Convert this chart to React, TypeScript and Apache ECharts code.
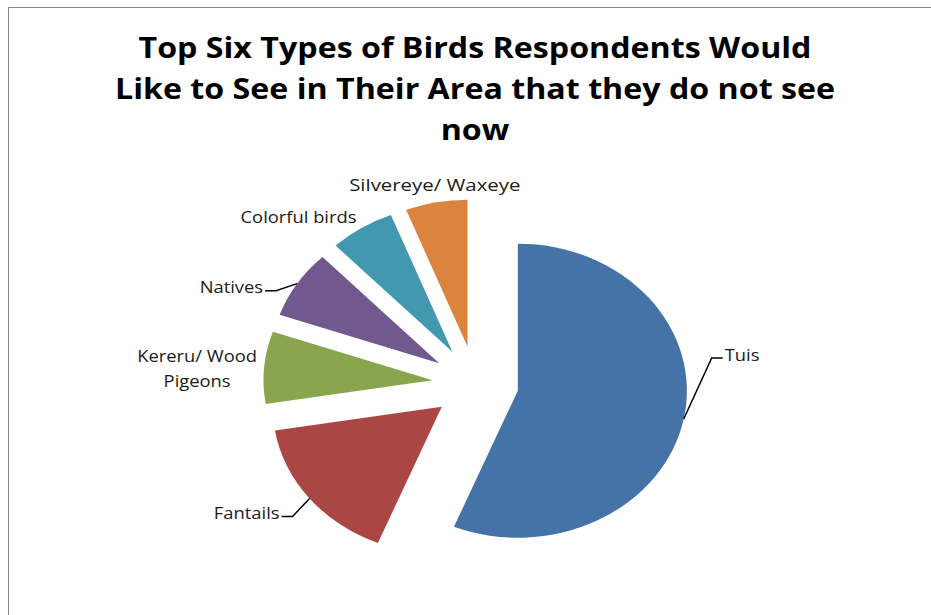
import React, { useEffect, useRef } from "react";
import * as echarts from "echarts";

const titleText = "Top Six Types of Birds Respondents Would\nLike to See in Their Area that they do not see\nnow";
const categories = ["Tuis", "Fantails", "Kereru/ Wood\nPigeons", "Natives", "Colorful birds", "Silvereye/ Waxeye"];
const values = [56, 16.2, 7.9, 7.5, 6.2, 5.9];
const colors = ["#4572A7", "#AA4643", "#89A54E", "#71588F", "#4198AF", "#DB843D"];

// label placement relative to the slice's outer arc midpoint: [dx, dy, align, hasLeader]
const labelLayout: [number, number, string, boolean][] = [
  [41, -65, "left", true],
  [-30, 14, "right", true],
  [-67, 0, "center", false],
  [-34, 3, "right", true],
  [-63, -12, "center", false],
  [-1.5, -18, "center", false],
];

const CX = 475.5;
const CY = 383.5;
const R = 147;
const SX = 1.15;
const EXPLODE = 37.5;

export default function App() {
  const ref = useRef<HTMLDivElement>(null);
  useEffect(() => {
    if (!ref.current) return;
    const chart = echarts.init(ref.current, undefined, { renderer: "svg" });
    const total = values.reduce((a, b) => a + b, 0);
    const starts: number[] = [];
    let acc = 0;
    values.forEach((v) => {
      starts.push(acc);
      acc += v;
    });
    const renderItem = (params: any, api: any) => {
      const i = params.dataIndex;
      const v = api.value(0);
      const a0 = (starts[i] / total) * Math.PI * 2;
      const a1 = ((starts[i] + v) / total) * Math.PI * 2;
      const mid = (a0 + a1) / 2;
      const ox = EXPLODE * Math.sin(mid) * SX;
      const oy = -EXPLODE * Math.cos(mid);
      const ax = CX + (R + EXPLODE) * Math.sin(mid) * SX;
      const ay = CY - (R + EXPLODE) * Math.cos(mid);
      const [dx, dy, align, leader] = labelLayout[i];
      const tx = ax + dx;
      const ty = ay + dy;
      const children: any[] = [
        {
          type: "sector",
          x: CX + ox,
          y: CY + oy,
          scaleX: SX,
          shape: {
            cx: 0,
            cy: 0,
            r0: 0,
            r: R,
            startAngle: a0 - Math.PI / 2,
            endAngle: a1 - Math.PI / 2,
            clockwise: true,
          },
          style: { fill: colors[i] },
        },
        {
          type: "text",
          x: tx,
          y: ty,
          scaleX: i === 5 ? 1.2 : 1.08,
          style: {
            text: categories[i],
            align: align,
            verticalAlign: "middle",
            fontFamily: "Open Sans",
            fontSize: 17,
            lineHeight: 25,
            fill: "#1a1a1a",
          },
        },
      ];
      if (leader) {
        const dir = align === "left" ? -1 : 1;
        children.push({
          type: "polyline",
          shape: {
            points: [
              [ax, ay],
              [tx + dir * 13, ty + 4],
              [tx + dir * 2, ty + 4],
            ],
          },
          style: { stroke: "#000", lineWidth: 1.5, fill: "none" },
        });
      }
      return { type: "group", children };
    };
    chart.setOption({
      animation: false,
      backgroundColor: "#fff",
      graphic: [
        {
          type: "rect",
          shape: { x: 8.5, y: 7.5, width: 1000, height: 1000 },
          style: { stroke: "#888", fill: "none", lineWidth: 1 },
          silent: true,
        },
        {
          type: "text",
          x: 475,
          y: 27,
          scaleX: 1.15,
          style: {
            text: titleText,
            align: "center",
            verticalAlign: "top",
            fontFamily: "Open Sans",
            fontWeight: "bold",
            fontSize: 28,
            lineHeight: 41,
            fill: "#000",
          },
        },
      ],
      series: [
        {
          type: "custom",
          coordinateSystem: "none",
          renderItem,
          data: values.map((v, i) => ({ name: categories[i], value: [v] })),
        },
      ],
    });
    return () => chart.dispose();
  }, []);
  return <div ref={ref} style={{ position: "fixed", left: 0, top: 0, width: 931, height: 615 }} />;
}
